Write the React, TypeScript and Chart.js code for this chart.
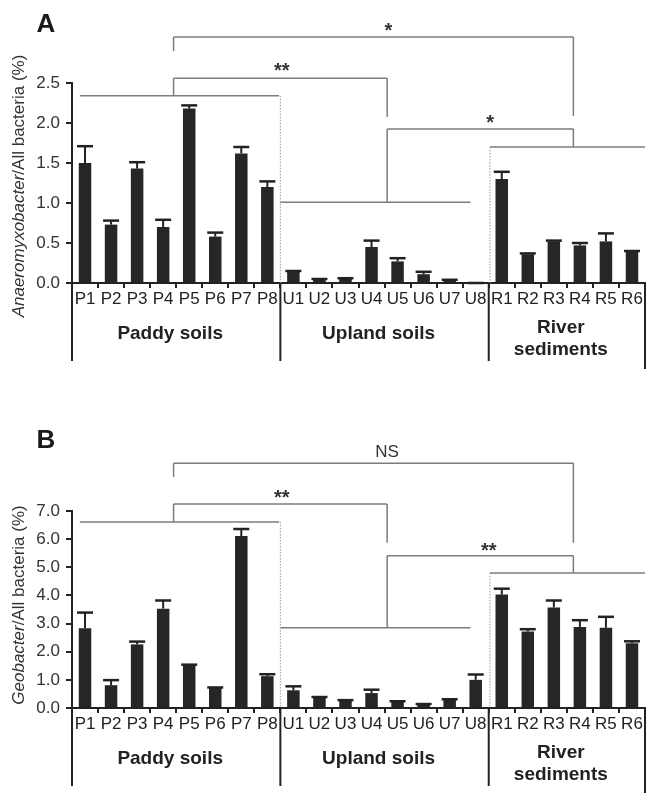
import React, { useEffect, useRef } from "react";
import { Chart, registerables } from "chart.js";

Chart.register(...registerables);

const FONT = "'Liberation Sans', Arial, Helvetica, sans-serif";

const categories = [
  "P1", "P2", "P3", "P4", "P5", "P6", "P7", "P8",
  "U1", "U2", "U3", "U4", "U5", "U6", "U7", "U8",
  "R1", "R2", "R3", "R4", "R5", "R6",
];

const anaeroMeans = [
  1.5, 0.73, 1.43, 0.7, 2.18, 0.58, 1.62, 1.2,
  0.14, 0.04, 0.05, 0.45, 0.27, 0.11, 0.03, 0.0,
  1.3, 0.36, 0.52, 0.47, 0.52, 0.39,
];
const anaeroErr = [
  0.21, 0.05, 0.08, 0.09, 0.04, 0.05, 0.08, 0.07,
  0.01, 0.01, 0.01, 0.08, 0.04, 0.03, 0.01, 0.0,
  0.09, 0.01, 0.01, 0.03, 0.1, 0.01,
];

const geoMeans = [
  2.83, 0.81, 2.26, 3.53, 1.52, 0.71, 6.11, 1.13,
  0.63, 0.37, 0.26, 0.53, 0.22, 0.12, 0.29, 1.0,
  4.03, 2.72, 3.57, 2.88, 2.85, 2.3,
];
const geoErr = [
  0.56, 0.18, 0.1, 0.29, 0.02, 0.02, 0.25, 0.07,
  0.14, 0.02, 0.02, 0.12, 0.02, 0.02, 0.02, 0.19,
  0.21, 0.08, 0.25, 0.24, 0.39, 0.07,
];

const groupLabels = [["Paddy soils"], ["Upland soils"], ["River", "sediments"]];
const groupStart = [0, 8, 16];
const groupEnd = [7, 15, 21];

// bracket annotations: [x1 idx, y1 value, x2 idx, y2 value]
const bracketsA = {
  solid: [
    [3.4, 3.075, 18.75, 3.075], [3.4, 3.075, 3.4, 2.9], [18.75, 3.075, 18.75, 2.09],
    [3.4, 2.56, 11.6, 2.56], [3.4, 2.56, 3.4, 2.34], [11.6, 2.56, 11.6, 2.075],
    [-0.2, 2.34, 7.45, 2.34],
    [7.5, 1.01, 14.8, 1.01], [11.6, 1.01, 11.6, 1.925],
    [11.6, 1.925, 18.75, 1.925], [18.75, 1.925, 18.75, 1.7],
    [15.55, 1.7, 21.5, 1.7],
  ],
  dotted: [[7.5, 2.34, 7.5, 0], [15.55, 1.7, 15.55, 0]],
  labels: [["*", 11.65, 3.2], ["**", 7.55, 2.7], ["*", 15.55, 2.05]],
};
const bracketsB = {
  solid: [
    [3.4, 8.7, 18.75, 8.7], [3.4, 8.7, 3.4, 8.21], [18.75, 8.7, 18.75, 5.87],
    [3.4, 7.25, 11.6, 7.25], [3.4, 7.25, 3.4, 6.61], [11.6, 7.25, 11.6, 5.87],
    [-0.2, 6.61, 7.45, 6.61],
    [7.5, 2.85, 14.8, 2.85], [11.6, 2.85, 11.6, 5.41],
    [11.6, 5.41, 18.75, 5.41], [18.75, 5.41, 18.75, 4.8],
    [15.55, 4.8, 21.5, 4.8],
  ],
  dotted: [[7.5, 6.61, 7.5, 0], [15.55, 4.8, 15.55, 0]],
  labels: [["NS", 11.6, 9.1], ["**", 7.55, 7.6], ["**", 15.5, 5.72]],
};

type PanelProps = {
  height: number;
  top: number;
  padTop: number;
  xHeight: number;
  means: number[];
  errs: number[];
  yMax: number;
  yStep: number;
  letter: string;
  italicTitle: string;
  restTitle: string;
  titleCenterY: number;
  brackets: any;
};

function Panel(p: PanelProps) {
  const ref = useRef<HTMLCanvasElement | null>(null);
  useEffect(() => {
    if (!ref.current) return;
    const dark = "#222222";
    const overlay = {
      id: "overlay",
      afterDatasetsDraw(chart: any) {
        const ctx = chart.ctx;
        const xs = chart.scales.x;
        const ys = chart.scales.y;
        ctx.save();
        ctx.strokeStyle = dark;
        for (let i = 0; i < p.means.length; i++) {
          const x = xs.getPixelForValue(i);
          const yb = ys.getPixelForValue(p.means[i]);
          const yt = ys.getPixelForValue(p.means[i] + p.errs[i]);
          ctx.lineWidth = 2;
          ctx.beginPath();
          ctx.moveTo(x, yb);
          ctx.lineTo(x, yt);
          ctx.stroke();
          ctx.lineWidth = 2.5;
          ctx.beginPath();
          ctx.moveTo(x - 8, yt);
          ctx.lineTo(x + 8, yt);
          ctx.stroke();
        }
        ctx.restore();
      },
      afterDraw(chart: any) {
        const ctx = chart.ctx;
        const xs = chart.scales.x;
        const ys = chart.scales.y;
        const area = chart.chartArea;
        const half = (xs.getPixelForValue(1) - xs.getPixelForValue(0)) / 2;
        const px = (v: number) => xs.getPixelForValue(0) + v * half * 2;
        ctx.save();
        // group separators
        ctx.strokeStyle = dark;
        ctx.lineWidth = 2;
        const bounds = [groupStart[0] - 0.5, groupStart[1] - 0.5, groupStart[2] - 0.5, groupEnd[2] + 0.5];
        bounds.forEach((b, k) => {
          ctx.beginPath();
          ctx.moveTo(px(b), area.bottom);
          ctx.lineTo(px(b), area.bottom + (k === 3 ? 86 : 78));
          ctx.stroke();
        });
        // group labels
        ctx.fillStyle = dark;
        ctx.font = `bold 19px ${FONT}`;
        ctx.textAlign = "center";
        ctx.textBaseline = "middle";
        groupLabels.forEach((lines, g) => {
          const cx = (px(groupStart[g]) + px(groupEnd[g])) / 2 - 6;
          if (lines.length === 1) {
            ctx.fillText(lines[0], cx, area.bottom + 51);
          } else {
            ctx.fillText(lines[0], cx, area.bottom + 45);
            ctx.fillText(lines[1], cx, area.bottom + 67);
          }
        });
        // brackets
        ctx.strokeStyle = "#7c7c7c";
        ctx.lineWidth = 1.5;
        p.brackets.solid.forEach((s: number[]) => {
          ctx.beginPath();
          ctx.moveTo(px(s[0]), ys.getPixelForValue(s[1]));
          ctx.lineTo(px(s[2]), ys.getPixelForValue(s[3]));
          ctx.stroke();
        });
        ctx.strokeStyle = "#9a9a9a";
        ctx.lineWidth = 1;
        ctx.setLineDash([1.5, 1.5]);
        p.brackets.dotted.forEach((s: number[]) => {
          ctx.beginPath();
          ctx.moveTo(px(s[0]), ys.getPixelForValue(s[1]));
          ctx.lineTo(px(s[2]), ys.getPixelForValue(s[3]));
          ctx.stroke();
        });
        ctx.setLineDash([]);
        ctx.fillStyle = "#333";
        p.brackets.labels.forEach((l: any[]) => {
          ctx.font = l[0] === "NS" ? `17px ${FONT}` : `bold 20px ${FONT}`;
          ctx.fillText(l[0], px(l[1]), ys.getPixelForValue(l[2]) + (l[0] === "NS" ? 0 : 4));
        });
        // panel letter
        ctx.fillStyle = "#1a1a1a";
        ctx.font = `bold 26px ${FONT}`;
        ctx.fillText(p.letter, 46, p.letter === "A" ? 25 : 41);
        // y title
        ctx.translate(19, p.titleCenterY);
        ctx.rotate(-Math.PI / 2);
        ctx.fillStyle = "#333";
        ctx.font = `italic 17px ${FONT}`;
        const w1 = ctx.measureText(p.italicTitle).width;
        ctx.font = `17px ${FONT}`;
        const w2 = ctx.measureText(p.restTitle).width;
        const start = -(w1 + w2) / 2;
        ctx.textAlign = "left";
        ctx.font = `italic 17px ${FONT}`;
        ctx.fillText(p.italicTitle, start, 0);
        ctx.font = `17px ${FONT}`;
        ctx.fillText(p.restTitle, start + w1, 0);
        ctx.restore();
      },
    };
    const chart = new Chart(ref.current, {
      type: "bar",
      data: {
        labels: categories,
        datasets: [
          {
            data: p.means,
            backgroundColor: "#262626",
            borderWidth: 0,
            barPercentage: 0.48,
            categoryPercentage: 1,
          },
        ],
      },
      options: {
        animation: false,
        responsive: false,
        maintainAspectRatio: false,
        layout: { padding: { top: p.padTop, right: 14, left: 0, bottom: 0 } },
        plugins: { legend: { display: false }, tooltip: { enabled: false } },
        scales: {
          x: {
            offset: true,
            grid: {
              display: true,
              offset: true,
              drawOnChartArea: false,
              drawTicks: true,
              tickLength: 5,
              color: dark,
              lineWidth: 2,
            },
            border: { display: true, color: dark, width: 2 },
            ticks: {
              font: { family: FONT, size: 17 },
              color: dark,
              padding: 1,
              maxRotation: 0,
              autoSkip: false,
            },
            afterFit: (s: any) => {
              s.height = p.xHeight;
            },
          },
          y: {
            min: 0,
            max: p.yMax,
            ticks: {
              stepSize: p.yStep,
              callback: (v: any) => Number(v).toFixed(1),
              font: { family: FONT, size: 17 },
              color: "#333",
              padding: 6,
            },
            grid: {
              drawOnChartArea: false,
              drawTicks: true,
              tickLength: 6,
              color: dark,
              lineWidth: 2,
            },
            border: { display: true, color: dark, width: 2 },
            afterFit: (s: any) => {
              s.width = 72;
            },
          },
        },
      },
      plugins: [overlay],
    } as any);
    return () => chart.destroy();
  }, []);
  return (
    <canvas
      ref={ref}
      width={659}
      height={p.height}
      style={{ position: "absolute", left: 0, top: p.top, width: 659, height: p.height }}
    />
  );
}

export default function App() {
  return (
    <div style={{ position: "absolute", left: 0, top: 0, width: 659, height: 793, background: "#fff" }}>
      <Panel
        height={400}
        top={0}
        padTop={83}
        xHeight={117}
        means={anaeroMeans}
        errs={anaeroErr}
        yMax={2.5}
        yStep={0.5}
        letter="A"
        italicTitle="Anaeromyxobacter"
        restTitle="/All bacteria (%)"
        titleCenterY={186}
        brackets={bracketsA}
      />
      <Panel
        height={393}
        top={400}
        padTop={111}
        xHeight={85}
        means={geoMeans}
        errs={geoErr}
        yMax={7}
        yStep={1}
        letter="B"
        italicTitle="Geobacter"
        restTitle="/All bacteria (%)"
        titleCenterY={205}
        brackets={bracketsB}
      />
    </div>
  );
}
